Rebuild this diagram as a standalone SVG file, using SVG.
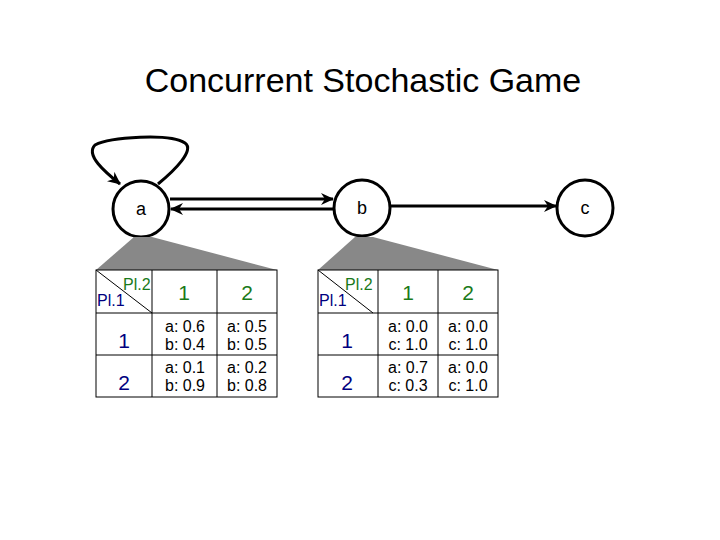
<svg xmlns="http://www.w3.org/2000/svg" width="720" height="540" viewBox="0 0 720 540">
<defs>
<marker id="ah" markerWidth="13" markerHeight="12" refX="12" refY="6" orient="auto" markerUnits="userSpaceOnUse"><path d="M0,0 L13,6 L0,12 L4,6 Z" fill="#000"/></marker>
<style>
text{font-family:"Liberation Sans",Arial,sans-serif}
.node{fill:#fff;stroke:#000;stroke-width:3}
.lbl{font-size:18px;text-anchor:middle}
.e{stroke:#000;stroke-width:3;fill:none;marker-end:url(#ah)}
.sh{fill:#888}
.g{fill:#fff;stroke:#000;stroke-width:1}
.p1{fill:#000080}
.p2{fill:#1a7a1a}
.c{font-size:16px;text-anchor:middle}
.h{font-size:21px;text-anchor:middle}
</style>
</defs>
<rect width="720" height="540" fill="#fff"/>
<text x="363" y="92" font-size="34" text-anchor="middle">Concurrent Stochastic Game</text>
<g id="connectors">
<path class="e" d="M158,184 C175,170 195,150 185,143 C170,133 110,137 95,145 C85,155 105,172 120,184"/>
<line class="e" x1="170" y1="199" x2="333" y2="199"/>
<line class="e" x1="334" y1="209" x2="171" y2="209"/>
<line class="e" x1="390" y1="206" x2="556" y2="206"/>
</g>
<g id="node-a"><circle class="node" cx="141" cy="209" r="28"/><text class="lbl" x="141" y="215">a</text></g>
<g id="node-b"><circle class="node" cx="362" cy="208" r="28"/><text class="lbl" x="362" y="214">b</text></g>
<g id="node-c"><circle class="node" cx="585" cy="208" r="28"/><text class="lbl" x="585" y="214">c</text></g>
<g id="table-a">
<polygon class="sh" points="134,237 152,237 277,270 96,270"/>
<rect class="g" x="96" y="270" width="181" height="127"/>
<line class="g" x1="152" y1="270" x2="152" y2="397"/><line class="g" x1="217" y1="270" x2="217" y2="397"/>
<line class="g" x1="96" y1="313" x2="277" y2="313"/><line class="g" x1="96" y1="355" x2="277" y2="355"/>
<line class="g" x1="96" y1="270" x2="152" y2="313"/>
<text class="p2" x="123" y="290" font-size="16">Pl.2</text><text class="p1" x="97" y="306" font-size="16">Pl.1</text>
<text class="h p2" x="184" y="300">1</text><text class="h p2" x="247" y="300">2</text>
<text class="h p1" x="124" y="348">1</text><text class="h p1" x="124" y="390">2</text>
<text class="c" x="185" y="332">a: 0.6</text><text class="c" x="185" y="350">b: 0.4</text>
<text class="c" x="247" y="332">a: 0.5</text><text class="c" x="247" y="350">b: 0.5</text>
<text class="c" x="185" y="373">a: 0.1</text><text class="c" x="185" y="391">b: 0.9</text>
<text class="c" x="247" y="373">a: 0.2</text><text class="c" x="247" y="391">b: 0.8</text>
</g>
<g id="table-b">
<polygon class="sh" points="355,237 373,237 498,270 318,270"/>
<rect class="g" x="318" y="270" width="180" height="127"/>
<line class="g" x1="378" y1="270" x2="378" y2="397"/><line class="g" x1="438" y1="270" x2="438" y2="397"/>
<line class="g" x1="318" y1="313" x2="498" y2="313"/><line class="g" x1="318" y1="355" x2="498" y2="355"/>
<line class="g" x1="318" y1="270" x2="373" y2="313"/>
<text class="p2" x="345" y="290" font-size="16">Pl.2</text><text class="p1" x="319" y="306" font-size="16">Pl.1</text>
<text class="h p2" x="408" y="300">1</text><text class="h p2" x="468" y="300">2</text>
<text class="h p1" x="347" y="348">1</text><text class="h p1" x="347" y="390">2</text>
<text class="c" x="408" y="332">a: 0.0</text><text class="c" x="408" y="350">c: 1.0</text>
<text class="c" x="468" y="332">a: 0.0</text><text class="c" x="468" y="350">c: 1.0</text>
<text class="c" x="408" y="373">a: 0.7</text><text class="c" x="408" y="391">c: 0.3</text>
<text class="c" x="468" y="373">a: 0.0</text><text class="c" x="468" y="391">c: 1.0</text>
</g>
</svg>
